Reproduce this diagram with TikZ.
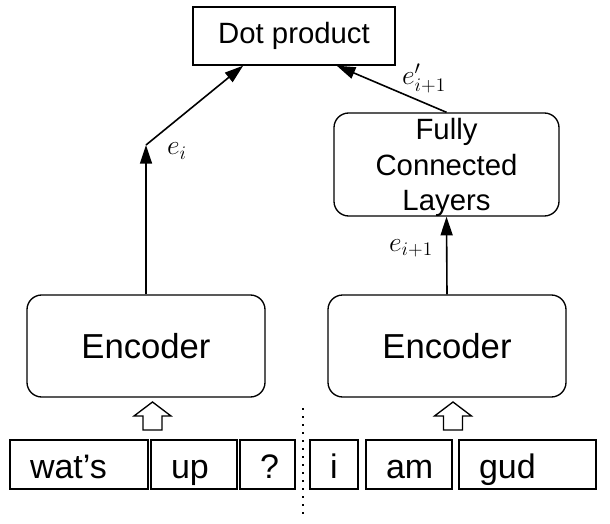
\documentclass[tikz,border=0pt]{standalone}
\usepackage{fontspec}
\setmainfont{Liberation Sans}
\usetikzlibrary{arrows.meta,calc}
\begin{document}
\begin{tikzpicture}[x=0.75pt,y=-0.75pt,
  box/.style={draw, line width=1pt, inner sep=0pt},
  rbox/.style={box, rounded corners=11pt},
  word/.style={draw, line width=1pt, inner xsep=15pt, inner ysep=0pt,
    minimum height=36.75pt, text height=23pt, text depth=2.5pt,
    font=\fontsize{25.5}{30}\selectfont},
  arr/.style={line width=1.2pt, -{Triangle[length=14pt,width=9pt]}},
  lbl/.style={inner sep=0pt, font=\fontsize{21}{24}\selectfont},
  hollow/.style={draw, line width=1pt, fill=white, line join=miter}
]
\useasboundingbox (0,0) rectangle (610,524);
% boxes
\node[box, minimum width=151.5pt, minimum height=43.5pt, font=\fontsize{22}{26}\selectfont] (dot) at (294,36) {Dot product};
\node[rbox, minimum width=178.5pt, minimum height=76.5pt, font=\fontsize{26}{30}\selectfont] (encL) at (146,346) {Encoder};
\node[rbox, minimum width=178.5pt, minimum height=76.5pt, font=\fontsize{26}{30}\selectfont] (encR) at (447,346) {Encoder};
\node[rbox, minimum width=168.75pt, minimum height=77.25pt, align=center, text depth=0pt,
  font=\fontsize{22}{26.6}\selectfont] (fc) at (446.5,164.5) {Fully\\Connected\\Layers};
% words
\node[word] (w1) at (79,464.5)    {\makebox[73.5pt][l]{wat’s}};
\node[word] (w2) at (194,464.5)   {\makebox[34.5pt][l]{up}};
\node[word] (w3) at (267.5,464.5) {\makebox[11.25pt][l]{?}};
\node[word] (w4) at (334,464.5)   {\makebox[6pt][l]{i}};
\node[word] (w5) at (409,464.5)   {\makebox[34.5pt][l]{am}};
\node[word] (w6) at (527.5,464.5) {\makebox[72.75pt][l]{gud}};
% connectors
\coordinate (ei) at (146,145);
\draw[arr] (encL.north) -- (ei);
\draw[arr] (ei) -- ($(dot.south west)!0.25!(dot.south east)$);
\draw[arr] (encR.north) -- (fc.south);
\draw[arr] (fc.north) -- ($(dot.south west)!0.71!(dot.south east)$);
% labels
\node[lbl] (l1) at (177,151) {$e_i$};
\node[lbl] (l2) at (411,248) {$e_{i+1}$};
\node[lbl] (l3) at (424,78) {$e'_{i+1}$};
% hollow arrows
\coordinate (hL) at (152.5,402);
\coordinate (hR) at (453,402);
\foreach \c in {hL,hR}
  \draw[hollow] (\c) -- ++(18.5,14) -- ++(-9,0) -- ++(0,14) -- ++(-19,0) -- ++(0,-14) -- ++(-9,0) -- cycle;
% divider
\coordinate (d1) at (303,408);
\coordinate (d2) at (303,517);
\draw[line width=1.5pt, dash pattern=on 1.5pt off 4.5pt] (d1) -- (d2);
\end{tikzpicture}
\end{document}
